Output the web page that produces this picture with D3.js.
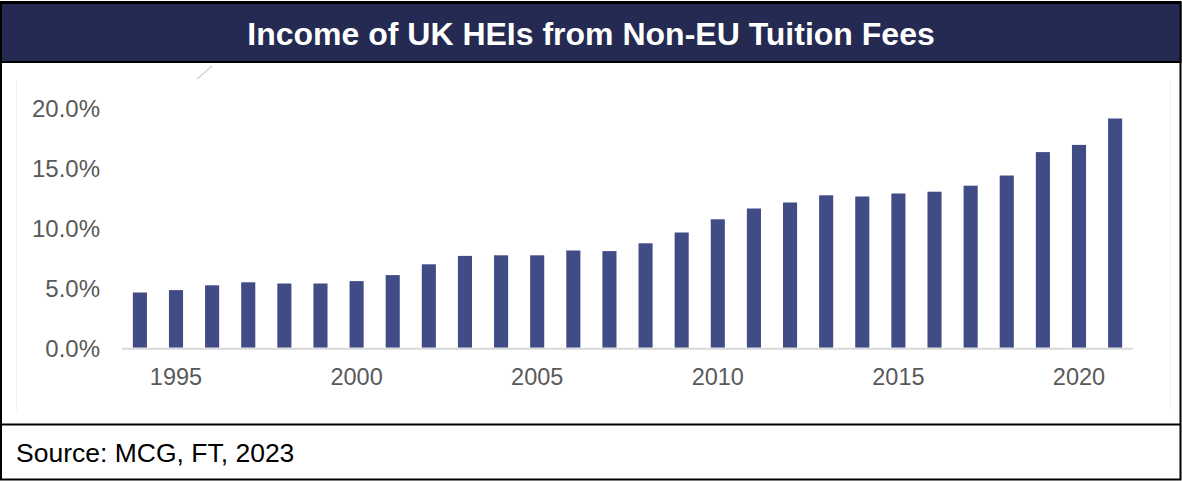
<!DOCTYPE html>
<html>
<head>
<meta charset="utf-8">
<script src="https://cdn.jsdelivr.net/npm/d3@7"></script>
<style>
  html, body { margin: 0; padding: 0; background: #fff; }
  svg { display: block; font-family: "Liberation Sans", Arial, sans-serif; }
</style>
</head>
<body>
<svg id="chart" width="1182" height="481"></svg>
<script>
// Share of UK higher-education income coming from non-EU tuition fees (%)
const years = [1994, 1995, 1996, 1997, 1998, 1999, 2000, 2001, 2002, 2003,
               2004, 2005, 2006, 2007, 2008, 2009, 2010, 2011, 2012, 2013,
               2014, 2015, 2016, 2017, 2018, 2019, 2020, 2021];
const shares = [4.6, 4.8, 5.2, 5.45, 5.35, 5.35, 5.55, 6.05, 6.95, 7.65,
                7.7, 7.7, 8.1, 8.05, 8.7, 9.6, 10.7, 11.6, 12.1, 12.7,
                12.6, 12.85, 13.0, 13.5, 14.35, 16.3, 16.9, 19.1];
const yTicks = [0, 5, 10, 15, 20];
const xLabelYears = [1995, 2000, 2005, 2010, 2015, 2020];
const titleText = "Income of UK HEIs from Non-EU Tuition Fees";
const sourceText = "Source: MCG, FT, 2023";

const svg = d3.select("#chart");
const W = 1182, H = 481;

// outer frame
svg.append("rect")
  .attr("x", 1).attr("y", 2).attr("width", W - 2.5).attr("height", H - 3.5)
  .attr("fill", "#fff").attr("stroke", "#000").attr("stroke-width", 2);

// title band
svg.append("rect")
  .attr("x", 1).attr("y", 3).attr("width", W - 2.5).attr("height", 59)
  .attr("fill", "#242a51").attr("stroke", "#000").attr("stroke-width", 2);
svg.append("text")
  .attr("x", 591).attr("y", 44.5)
  .attr("text-anchor", "middle")
  .attr("fill", "#fff")
  .attr("font-weight", "bold")
  .attr("font-size", 32)
  .text(titleText);

// faint plot-area frame
svg.append("path")
  .attr("d", "M16.5,80 V411 M1170.5,80 V411")
  .attr("stroke", "#f3f3f3").attr("stroke-width", 1).attr("fill", "none");
svg.append("line")
  .attr("x1", 197).attr("y1", 79).attr("x2", 212).attr("y2", 66)
  .attr("stroke", "#d0d0d0").attr("stroke-width", 1.2);

// scales
const x = d3.scaleBand().domain(years).range([122, 1133]).paddingInner(0.61).paddingOuter(0.3);
const y = d3.scaleLinear().domain([0, 20]).range([347.7, 107.7]);

// bars
svg.append("g").selectAll("rect")
  .data(years.map((yr, i) => ({ yr, v: shares[i] })))
  .join("rect")
  .attr("x", d => x(d.yr))
  .attr("y", d => y(d.v))
  .attr("width", x.bandwidth())
  .attr("height", d => y(0) - y(d.v))
  .attr("fill", "#414c87");

// baseline
svg.append("line")
  .attr("x1", 122).attr("x2", 1133)
  .attr("y1", y(0) + 1).attr("y2", y(0) + 1)
  .attr("stroke", "#d9d9d9").attr("stroke-width", 2);

// y axis labels
const yAxis = d3.axisLeft(y).tickValues(yTicks).tickSize(0).tickPadding(0)
  .tickFormat(d => d.toFixed(1) + "%");
const gy = svg.append("g").attr("transform", "translate(100,0)").call(yAxis);
gy.select(".domain").remove();
gy.selectAll("text")
  .attr("font-family", "Liberation Sans, Arial, sans-serif")
  .attr("font-size", 24).attr("fill", "#595959").attr("dy", "0.37em");

// x axis labels
const xAxis = d3.axisBottom(x).tickValues(xLabelYears).tickSize(0).tickPadding(0)
  .tickFormat(d3.format("d"));
const gx = svg.append("g").attr("transform", "translate(0,368)").call(xAxis);
gx.select(".domain").remove();
gx.selectAll("text")
  .attr("font-family", "Liberation Sans, Arial, sans-serif")
  .attr("font-size", 23.5).attr("fill", "#595959").attr("dy", "0.72em");

// source strip
svg.append("line")
  .attr("x1", 1).attr("x2", W - 1).attr("y1", 424.5).attr("y2", 424.5)
  .attr("stroke", "#000").attr("stroke-width", 2);
svg.append("text")
  .attr("x", 16).attr("y", 462)
  .attr("font-size", 26.5).attr("fill", "#000")
  .text(sourceText);
</script>
</body>
</html>
